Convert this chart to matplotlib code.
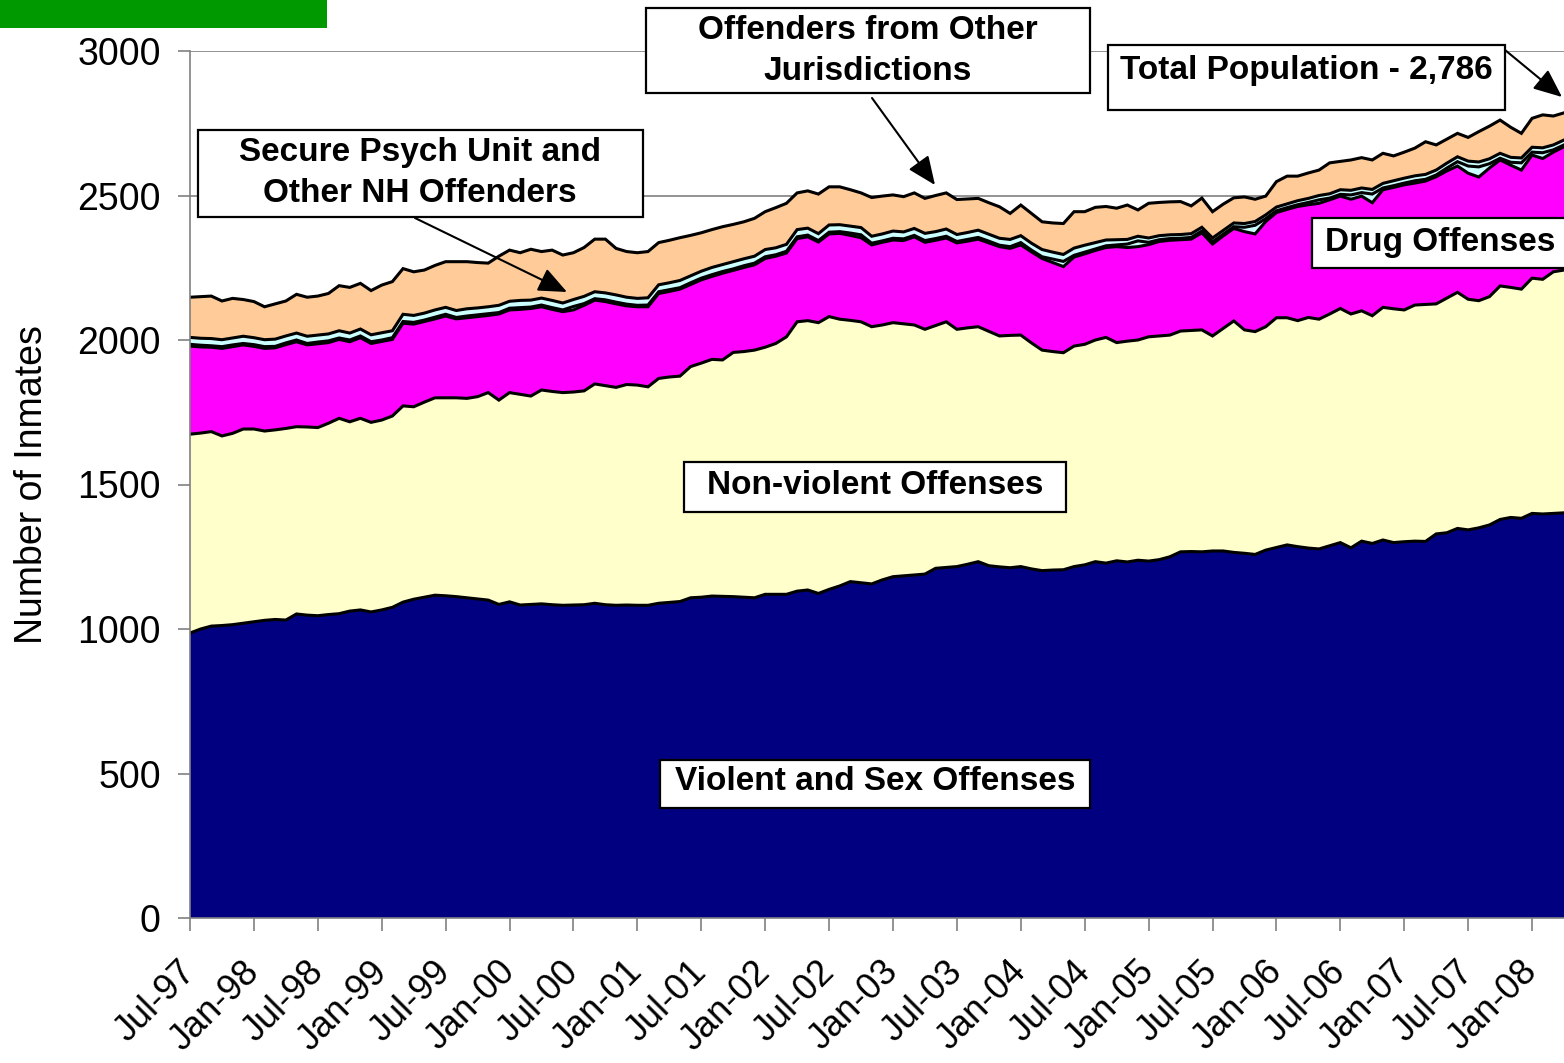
import numpy as np
import matplotlib
matplotlib.use("Agg")
import matplotlib.pyplot as plt
from matplotlib.patches import Rectangle

# monthly inmate counts, Jul-97 .. Apr-08 (stacked levels)
violent = [986, 1000, 1010, 1012, 1015, 1020, 1025, 1030, 1033, 1031,
           1052, 1048, 1046, 1050, 1053, 1062, 1066, 1059, 1066, 1075,
           1093, 1103, 1110, 1117, 1115, 1112, 1108, 1104, 1100, 1085,
           1094, 1083, 1085, 1087, 1084, 1082, 1083, 1084, 1089, 1084,
           1082, 1083, 1082, 1082, 1089, 1092, 1095, 1108, 1110, 1114,
           1113, 1112, 1110, 1108, 1120, 1120, 1120, 1131, 1135, 1123,
           1137, 1149, 1164, 1160, 1156, 1170, 1181, 1184, 1187, 1190,
           1210, 1213, 1216, 1224, 1233, 1219, 1215, 1212, 1216, 1208,
           1202, 1204, 1205, 1216, 1222, 1233, 1228, 1236, 1232, 1238,
           1235, 1240, 1250, 1267, 1268, 1267, 1270, 1270, 1265, 1262,
           1258, 1273, 1282, 1291, 1285, 1280, 1277, 1288, 1299, 1281,
           1304, 1296, 1308, 1299, 1302, 1304, 1303, 1329, 1333, 1348,
           1343, 1350, 1360, 1379, 1386, 1383, 1400, 1398, 1400, 1402]

# violent + non-violent
top_nonviolent = [1674, 1678, 1683, 1668, 1677, 1692, 1692, 1685, 1689, 1694,
                  1700, 1699, 1697, 1712, 1729, 1717, 1729, 1715, 1723, 1737,
                  1772, 1769, 1785, 1800, 1800, 1800, 1798, 1804, 1818, 1792,
                  1818, 1812, 1806, 1827, 1822, 1818, 1820, 1824, 1848, 1842,
                  1836, 1846, 1844, 1838, 1867, 1872, 1875, 1908, 1920, 1933,
                  1931, 1957, 1960, 1965, 1975, 1988, 2011, 2063, 2067, 2060,
                  2081, 2072, 2068, 2063, 2046, 2052, 2060, 2056, 2052, 2037,
                  2050, 2063, 2037, 2042, 2046, 2030, 2014, 2016, 2017, 1990,
                  1965, 1960, 1956, 1979, 1985, 2000, 2009, 1991, 1996, 2000,
                  2011, 2014, 2017, 2031, 2033, 2035, 2014, 2040, 2066, 2035,
                  2029, 2046, 2077, 2077, 2067, 2078, 2072, 2090, 2109, 2090,
                  2101, 2084, 2113, 2108, 2104, 2121, 2123, 2125, 2145, 2165,
                  2141, 2136, 2150, 2187, 2182, 2176, 2214, 2210, 2236, 2242]

# violent + non-violent + drug
top_drug = [1979, 1976, 1975, 1971, 1977, 1983, 1978, 1971, 1973, 1984,
            1994, 1983, 1987, 1991, 2002, 1994, 2008, 1988, 1995, 2002,
            2058, 2055, 2064, 2073, 2083, 2073, 2077, 2081, 2085, 2090,
            2104, 2106, 2109, 2115, 2106, 2098, 2104, 2120, 2138, 2133,
            2125, 2118, 2115, 2115, 2161, 2168, 2176, 2192, 2208, 2220,
            2231, 2241, 2251, 2260, 2282, 2290, 2301, 2351, 2357, 2339,
            2367, 2369, 2362, 2354, 2329, 2338, 2346, 2344, 2357, 2338,
            2345, 2353, 2336, 2342, 2349, 2336, 2323, 2317, 2329, 2305,
            2282, 2268, 2254, 2287, 2298, 2310, 2320, 2323, 2320, 2323,
            2330, 2341, 2345, 2347, 2349, 2371, 2332, 2360, 2386, 2375,
            2367, 2410, 2441, 2452, 2462, 2468, 2473, 2485, 2498, 2487,
            2498, 2475, 2520, 2528, 2537, 2543, 2550, 2565, 2585, 2602,
            2577, 2564, 2595, 2623, 2605, 2588, 2640, 2628, 2650, 2669]

secure_psych = [6, 6, 5, 6, 6, 5, 6, 6, 5, 6,
                6, 5, 6, 6, 5, 6, 6, 6, 5, 6,
                6, 6, 5, 6, 6, 5, 6, 6, 6, 5,
                6, 6, 5, 6, 6, 6, 12, 6, 5, 6,
                6, 6, 5, 6, 6, 6, 5, 6, 6, 6,
                6, 5, 6, 6, 6, 5, 6, 6, 6, 5,
                6, 6, 8, 10, 6, 5, 6, 6, 5, 6,
                6, 6, 5, 6, 6, 6, 5, 6, 8, 6,
                6, 12, 18, 6, 6, 5, 6, 6, 12, 20,
                8, 6, 6, 5, 6, 6, 8, 6, 6, 15,
                30, 10, 6, 6, 6, 8, 12, 6, 6, 15,
                12, 30, 6, 6, 6, 8, 6, 6, 10, 15,
                25, 35, 15, 6, 10, 25, 10, 20, 8, 6]

other_nh = [24, 24, 25, 24, 24, 25, 24, 24, 25, 24,
            24, 25, 24, 24, 25, 24, 24, 24, 25, 24,
            25, 24, 24, 25, 24, 24, 25, 24, 24, 25,
            24, 25, 24, 24, 25, 24, 24, 25, 24, 24,
            25, 24, 24, 25, 24, 24, 25, 24, 24, 25,
            24, 25, 24, 24, 25, 24, 24, 25, 24, 24,
            25, 24, 24, 25, 24, 24, 25, 24, 24, 25,
            24, 25, 24, 24, 25, 24, 24, 25, 24, 24,
            25, 24, 24, 25, 24, 22, 20, 18, 16, 16,
            15, 14, 13, 13, 13, 13, 13, 13, 13, 13,
            13, 13, 13, 13, 14, 14, 15, 15, 16, 16,
            16, 16, 16, 17, 17, 17, 17, 17, 17, 17,
            17, 17, 17, 17, 17, 17, 17, 17, 17, 17]

# total population (top of the stack)
total = [2148, 2150, 2152, 2135, 2144, 2140, 2133, 2115, 2125, 2135,
         2158, 2148, 2152, 2161, 2188, 2182, 2196, 2171, 2190, 2202,
         2247, 2236, 2242, 2258, 2271, 2271, 2271, 2268, 2266, 2290,
         2311, 2302, 2314, 2306, 2311, 2294, 2302, 2320, 2349, 2349,
         2317, 2306, 2302, 2306, 2337, 2345, 2354, 2362, 2371, 2382,
         2392, 2400, 2409, 2421, 2444, 2458, 2473, 2509, 2516, 2505,
         2530, 2530, 2520, 2509, 2493, 2498, 2502, 2496, 2509, 2490,
         2500, 2509, 2486, 2488, 2490, 2475, 2461, 2438, 2467, 2438,
         2409, 2405, 2403, 2444, 2444, 2459, 2462, 2456, 2467, 2450,
         2473, 2476, 2478, 2479, 2464, 2491, 2444, 2470, 2492, 2495,
         2487, 2498, 2548, 2567, 2567, 2578, 2588, 2613, 2618, 2623,
         2631, 2623, 2646, 2637, 2650, 2664, 2686, 2675, 2695, 2715,
         2701, 2721, 2740, 2761, 2736, 2715, 2767, 2779, 2775, 2786]

tick_labels = ['Jul-97', 'Jan-98', 'Jul-98', 'Jan-99', 'Jul-99', 'Jan-00',
               'Jul-00', 'Jan-01', 'Jul-01', 'Jan-02', 'Jul-02', 'Jan-03',
               'Jul-03', 'Jan-04', 'Jul-04', 'Jan-05', 'Jul-05', 'Jan-06',
               'Jul-06', 'Jan-07', 'Jul-07', 'Jan-08']

W, H = 1564, 1063
plt.rcParams['font.family'] = ['Liberation Sans', 'DejaVu Sans']

fig = plt.figure(figsize=(W / 100, H / 100), dpi=100)
ax = fig.add_axes([190 / W, 1 - 918 / H, (W - 190) / W, (918 - 51) / H])

x = np.arange(len(violent))
lvl_psych = np.array(top_drug) + np.array(secure_psych)
lvl_nh = lvl_psych + np.array(other_nh)

layers = [
    (np.zeros(len(x)), violent, '#000080'),
    (violent, top_nonviolent, '#FFFFCC'),
    (top_nonviolent, top_drug, '#FF00FF'),
    (top_drug, lvl_psych, '#CCFFFF'),
    (lvl_psych, lvl_nh, '#CCFFFF'),
    (lvl_nh, total, '#FFCC99'),
]
for lo, hi, col in layers:
    ax.fill_between(x, lo, hi, facecolor=col, edgecolor='none', zorder=2)
    ax.plot(x, hi, color='black', lw=2.2, zorder=3, solid_joinstyle='miter')

ax.set_xlim(0, len(x) - 1)
ax.set_ylim(0, 3000)
ax.set_yticks(range(0, 3001, 500))
ax.yaxis.grid(True, color='#808080', lw=1.2)
ax.set_axisbelow(True)

ax.set_xticks(range(0, len(x), 6))
ax.set_xticklabels(tick_labels, rotation=45, ha='right', va='center',
                   rotation_mode='anchor')
ax.tick_params(axis='both', labelsize=27, length=9, width=1.2,
               color='#808080', direction='out')
ax.tick_params(axis='y', pad=12)
ax.tick_params(axis='x', pad=26, labelsize=26)

for s in ['top', 'right']:
    ax.spines[s].set_visible(False)
for s in ['left', 'bottom']:
    ax.spines[s].set_color('#808080')
    ax.spines[s].set_linewidth(1.2)
    ax.spines[s].set_zorder(4)

ax.set_ylabel('Number of Inmates', fontsize=27, va='center')
ax.yaxis.set_label_coords(-(190 - 32) / (W - 190), 0.5)


def fx(px):
    return px / W


def fy(py):
    return 1 - py / H


def label_box(x0, y0, x1, y1, text, cx, cy):
    fig.patches.append(Rectangle((fx(x0), fy(y1)), fx(x1 - x0), (y1 - y0) / H,
                                 transform=fig.transFigure, facecolor='white',
                                 edgecolor='black', lw=1.6, zorder=5))
    fig.text(fx(cx), fy(cy), text, ha='center', va='center', fontsize=24,
             fontweight='bold', linespacing=1.45, zorder=6)


label_box(198, 130, 643, 217, 'Secure Psych Unit and\nOther NH Offenders', 420, 173)
label_box(646, 8, 1090, 93, 'Offenders from Other\nJurisdictions', 868, 51)
label_box(1108, 45, 1505, 110, 'Total Population - 2,786', 1306, 71)
label_box(1312, 218, 1575, 268, 'Drug Offenses', 1440, 242)
label_box(684, 462, 1066, 512, 'Non-violent Offenses', 875, 485)
label_box(660, 760, 1090, 808, 'Violent and Sex Offenses', 875, 782)

arrow = dict(arrowstyle='-|>,head_length=0.7,head_width=0.3', color='black',
             lw=1.5, mutation_scale=25, shrinkA=0, shrinkB=0)
for (tx, ty), (hx, hy) in [((415, 218), (567, 292)),
                           ((872, 98), (935, 185)),
                           ((1505, 50), (1562, 97))]:
    ax.annotate('', xy=(fx(hx), fy(hy)), xycoords='figure fraction',
                xytext=(fx(tx), fy(ty)), textcoords='figure fraction',
                arrowprops=arrow, annotation_clip=False, zorder=7)

# green banner in the top-left corner
fig.patches.append(Rectangle((0, fy(28)), fx(327), 28 / H,
                             transform=fig.transFigure, facecolor='#009900',
                             edgecolor='none', zorder=5))

fig.savefig('out.png', dpi=100)
